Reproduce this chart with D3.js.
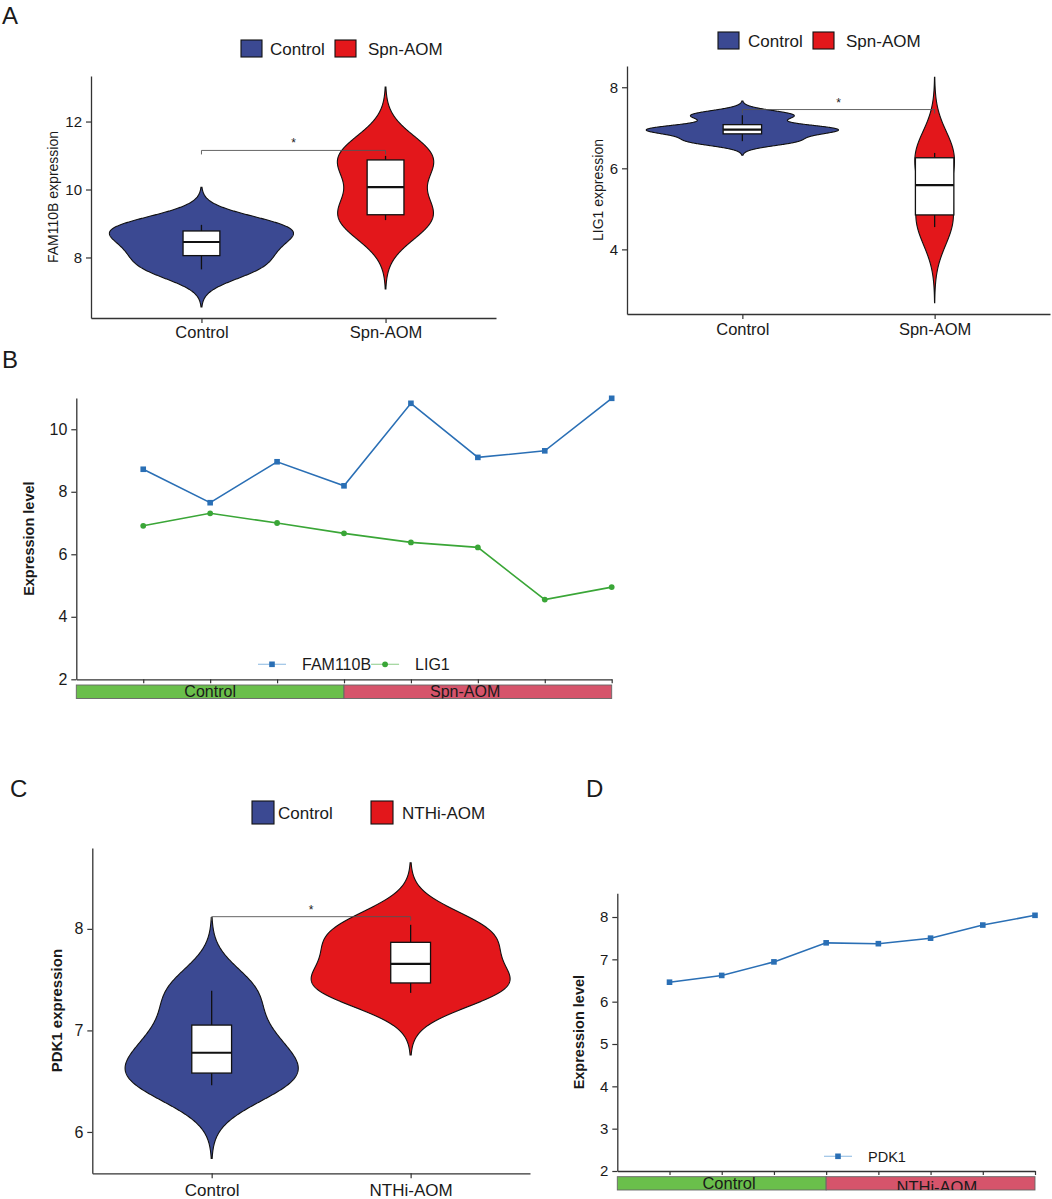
<!DOCTYPE html>
<html><head><meta charset="utf-8">
<script src="https://cdn.jsdelivr.net/npm/d3@7"></script>
<style>
body{margin:0;background:#fff}
svg text{font-family:Arial,"Liberation Sans",Helvetica,sans-serif;fill:#1a1a1a}
</style></head>
<body><svg id="fig" width="1052" height="1199"></svg>
<script>
// ---------------- DATA ----------------
const sampleGroupSpn  = ["Control","Control","Control","Control","Spn-AOM","Spn-AOM","Spn-AOM","Spn-AOM"];
const sampleGroupNthi = ["Control","Control","Control","Control","NTHi-AOM","NTHi-AOM","NTHi-AOM","NTHi-AOM"];
const groupsSpn  = ["Control","Spn-AOM"];
const groupsNthi = ["Control","NTHi-AOM"];
const fam110b = [8.72, 7.65, 8.96, 8.19, 10.83, 9.10, 9.31, 10.99];
const lig1    = [6.91, 7.31, 7.00, 6.67, 6.38, 6.22, 4.55, 4.95];
const pdk1    = [6.46, 6.62, 6.94, 7.39, 7.37, 7.50, 7.81, 8.04];
const ticksFam = [8, 10, 12];
const ticksLig = [4, 6, 8];
const ticksPdk = [6, 7, 8];
const ticksB   = [2, 4, 6, 8, 10];
const ticksD   = [2, 3, 4, 5, 6, 7, 8];
const bracketFam = 11.15, bracketLig = 7.45, bracketPdk = 8.12;
const sigLabel = "*";

// ---------------- STYLE ----------------
const C_BLUE = "#3B4992", C_RED = "#E3171B";
const L_BLUE = "#2a6fb5", L_GREEN = "#3aa637", LEG_BLUE = "#9cc3e6", LEG_GREEN = "#9fd49a";
const BAR_GREEN = "#6abf4b", BAR_RED = "#d6546b";
const AX = "#333";
const svg = d3.select("#fig");
const fmt = d3.format("d");

function sorted(v){ return v.slice().sort(d3.ascending); }
function nrd0(v){
  const s = sorted(v);
  const iqr = d3.quantile(s,0.75) - d3.quantile(s,0.25);
  const lo = Math.min(d3.deviation(v), iqr/1.34);
  return 0.9*lo*Math.pow(v.length,-0.2);
}
function kde(v){
  const bw = nrd0(v), lo = d3.min(v)-3*bw, hi = d3.max(v)+3*bw, n = 512;
  const k = 1/(v.length*bw*Math.sqrt(2*Math.PI));
  return d3.range(n).map(i=>{
    const x = lo+(hi-lo)*i/(n-1);
    return [x, k*d3.sum(v, xi=>Math.exp(-0.5*((x-xi)/bw)**2))];
  });
}
function styleAxis(g, fs){
  g.select(".domain").attr("stroke",AX).attr("stroke-width",1.3);
  g.selectAll(".tick line").attr("stroke",AX).attr("stroke-width",1.2);
  g.selectAll(".tick text").attr("font-size",fs).attr("fill","#1a1a1a")
    .style("font-family",'Arial,"Liberation Sans",sans-serif');
}
function panelLabel(t,x,y){
  svg.append("text").attr("x",x).attr("y",y).attr("font-size",24).text(t);
}

function violinPanel(cfg){
  const {values, groupOf, groups, l, r, t, b, ticks, yLabel, yBold, yLabFs, yLabX,
         tickFs, xFs, xPad, bracket, legend} = cfg;
  const g = svg.append("g");
  const byGroup = groups.map(gr=>values.filter((v,i)=>groupOf[i]===gr));
  const dens = byGroup.map(kde);
  const lo = d3.min(dens,d=>d[0][0]), hi = d3.max(dens,d=>d[d.length-1][0]);
  const pad = (hi-lo)*0.05;
  const y = d3.scaleLinear().domain([lo-pad, hi+pad]).range([b,t]);
  const x = d3.scaleLinear().domain([0.4, groups.length+0.6]).range([l,r]);
  const unit = x(1)-x(0);
  const maxD = d3.max(dens,d=>d3.max(d,p=>p[1]));
  const colors = [C_BLUE, C_RED];
  const line = d3.line();
  dens.forEach((d,i)=>{
    const cx = x(i+1);
    const hw = p=>p[1]/maxD*0.5*unit;
    const pts = d.map(p=>[cx+hw(p), y(p[0])]).concat(d.slice().reverse().map(p=>[cx-hw(p), y(p[0])]));
    g.append("path").attr("d", line(pts)+"Z").attr("fill",colors[i])
      .attr("stroke","#111").attr("stroke-width",1.1);
    const s = sorted(byGroup[i]);
    const q1 = d3.quantile(s,0.25), q2 = d3.quantile(s,0.5), q3 = d3.quantile(s,0.75);
    const iqr = q3-q1;
    const wLo = d3.min(s.filter(v=>v>=q1-1.5*iqr)), wHi = d3.max(s.filter(v=>v<=q3+1.5*iqr));
    const bw = 0.2*unit;
    g.append("line").attr("x1",cx).attr("x2",cx).attr("y1",y(wHi)).attr("y2",y(q3)).attr("stroke","#111").attr("stroke-width",1.3);
    g.append("line").attr("x1",cx).attr("x2",cx).attr("y1",y(q1)).attr("y2",y(wLo)).attr("stroke","#111").attr("stroke-width",1.3);
    g.append("rect").attr("x",cx-bw/2).attr("width",bw).attr("y",y(q3)).attr("height",y(q1)-y(q3))
      .attr("fill","#fff").attr("stroke","#111").attr("stroke-width",1.3);
    g.append("line").attr("x1",cx-bw/2).attr("x2",cx+bw/2).attr("y1",y(q2)).attr("y2",y(q2)).attr("stroke","#111").attr("stroke-width",2.2);
  });
  // bracket
  const by = y(bracket), x1 = x(1), x2 = x(2);
  g.append("path").attr("d",`M${x1},${by+4}L${x1},${by}L${x2},${by}L${x2},${by+4}`)
    .attr("fill","none").attr("stroke","#555").attr("stroke-width",0.9);
  g.append("text").attr("x",(x1+x2)/2).attr("y",by-3).attr("text-anchor","middle").attr("font-size",12).text(sigLabel);
  // axes
  const ya = g.append("g").attr("transform",`translate(${l},0)`)
    .call(d3.axisLeft(y).tickValues(ticks).tickFormat(fmt).tickSize(5).tickSizeOuter(0).tickPadding(4));
  styleAxis(ya, tickFs);
  const xa = g.append("g").attr("transform",`translate(0,${b})`)
    .call(d3.axisBottom(x).tickValues(groups.map((d,i)=>i+1)).tickFormat(i=>groups[i-1]).tickSize(5).tickSizeOuter(0).tickPadding(xPad));
  styleAxis(xa, xFs);
  // y label
  g.append("text").attr("transform",`translate(${yLabX},${(t+b)/2}) rotate(-90)`)
    .attr("text-anchor","middle").attr("font-size",yLabFs).attr("font-weight",yBold?"bold":"normal").text(yLabel);
  // legend
  groups.forEach((gr,i)=>{
    const it = legend.items[i];
    g.append("rect").attr("x",it[0]).attr("y",legend.y).attr("width",legend.w).attr("height",legend.h)
      .attr("fill",colors[i]).attr("stroke","#111").attr("stroke-width",1.1);
    g.append("text").attr("x",it[1]).attr("y",legend.y+legend.h/2).attr("dy","0.36em")
      .attr("font-size",legend.fs).text(gr);
  });
}

function linePanel(cfg){
  const {series, names, colors, legColors, markers, groupOf, l, r, t, b, yMax, ticks,
         tickFs, yLabX, barTop, barBot, barFs, barLabelX, barLabelY, legY, legX, legFs} = cfg;
  const g = svg.append("g");
  const n = groupOf.length;
  const x = d3.scaleLinear().domain([0,n]).range([l,r]);
  const y = d3.scaleLinear().domain([2,yMax]).range([b,t]);
  const ya = g.append("g").attr("transform",`translate(${l},0)`)
    .call(d3.axisLeft(y).tickValues(ticks).tickFormat(fmt).tickSize(5).tickSizeOuter(0).tickPadding(4));
  styleAxis(ya, tickFs);
  const xa = g.append("g").attr("transform",`translate(0,${b})`)
    .call(d3.axisBottom(x).tickValues(d3.range(1,n+1)).tickFormat("").tickSize(4).tickSizeOuter(0));
  styleAxis(xa, tickFs);
  g.append("text").attr("transform",`translate(${yLabX},${(t+b)/2}) rotate(-90)`)
    .attr("text-anchor","middle").attr("font-size",14.5).attr("font-weight","bold").text("Expression level");
  // group bar
  const groups = Array.from(new Set(groupOf));
  const barCols = [BAR_GREEN, BAR_RED];
  const clipId = "clip"+Math.round(l);
  g.append("clipPath").attr("id",clipId).append("rect").attr("x",l).attr("y",barTop).attr("width",r-l).attr("height",barBot-barTop);
  groups.forEach((gr,gi)=>{
    const idx = groupOf.map((d,i)=>d===gr?i:-1).filter(i=>i>=0);
    const x0 = x(d3.min(idx)), x1 = x(d3.max(idx)+1);
    g.append("rect").attr("x",x0).attr("width",x1-x0).attr("y",barTop).attr("height",barBot-barTop)
      .attr("fill",barCols[gi]).attr("stroke","#666").attr("stroke-width",0.9);
    g.append("text").attr("clip-path",`url(#${clipId})`).attr("x",x(barLabelX[gi])).attr("y",barLabelY[gi])
      .attr("text-anchor","middle").attr("font-size",barFs).text(gr);
  });
  // lines
  series.forEach((s,si)=>{
    g.append("path").attr("d", d3.line().x((d,i)=>x(i+1)).y(d=>y(d))(s))
      .attr("fill","none").attr("stroke",colors[si]).attr("stroke-width",1.6);
    s.forEach((v,i)=>drawMarker(g, markers[si], x(i+1), y(v), colors[si]));
  });
  // legend
  let cx = legX;
  series.forEach((s,si)=>{
    g.append("line").attr("x1",cx).attr("x2",cx+28).attr("y1",legY).attr("y2",legY).attr("stroke",legColors[si]).attr("stroke-width",1.2);
    drawMarker(g, markers[si], cx+14, legY, colors[si]);
    const tx = g.append("text").attr("x",cx+44).attr("y",legY).attr("dy","0.36em").attr("font-size",legFs).text(names[si]);
    cx = cx+44+tx.node().getComputedTextLength();
  });
}
function drawMarker(g, type, cx, cy, col){
  if(type==="square") g.append("rect").attr("x",cx-2.8).attr("y",cy-2.8).attr("width",5.6).attr("height",5.6).attr("fill",col);
  else g.append("circle").attr("cx",cx).attr("cy",cy).attr("r",2.9).attr("fill",col);
}

// ---------------- PANELS ----------------
panelLabel("A",2,24);
violinPanel({values:fam110b, groupOf:sampleGroupSpn, groups:groupsSpn, l:91, r:496, t:76, b:318,
  ticks:ticksFam, yLabel:"FAM110B expression", yBold:false, yLabFs:14, yLabX:58, tickFs:15, xFs:16.5, xPad:3,
  bracket:bracketFam, legend:{y:40, w:21, h:17, fs:17, items:[[241,270],[335,368]]}});
violinPanel({values:lig1, groupOf:sampleGroupSpn, groups:groupsSpn, l:627, r:1050, t:66, b:314,
  ticks:ticksLig, yLabel:"LIG1 expression", yBold:false, yLabFs:14, yLabX:603, tickFs:15, xFs:16.5, xPad:4,
  bracket:bracketLig, legend:{y:32, w:21, h:17, fs:17, items:[[718,748],[813,846]]}});

panelLabel("B",2,368);
linePanel({series:[fam110b, lig1], names:["FAM110B","LIG1"], colors:[L_BLUE,L_GREEN], legColors:[LEG_BLUE,LEG_GREEN],
  markers:["square","circle"], groupOf:sampleGroupSpn, l:76.3, r:611.7, t:398, b:679.3, yMax:11, ticks:ticksB,
  tickFs:16, yLabX:34, barTop:685, barBot:698.5, barFs:16, barLabelX:[2.0,5.81], barLabelY:[697,697],
  legY:664.3, legX:258, legFs:16});

panelLabel("C",10,797);
violinPanel({values:pdk1, groupOf:sampleGroupNthi, groups:groupsNthi, l:92.3, r:530, t:848, b:1173.3,
  ticks:ticksPdk, yLabel:"PDK1 expression", yBold:true, yLabFs:15, yLabX:62, tickFs:16, xFs:17, xPad:6,
  bracket:bracketPdk, legend:{y:801, w:22, h:23, fs:17, items:[[252,278],[371,402]]}});

panelLabel("D",586,797);
linePanel({series:[pdk1], names:["PDK1"], colors:[L_BLUE], legColors:[LEG_BLUE], markers:["square"],
  groupOf:sampleGroupNthi, l:617.3, r:1035, t:893.3, b:1171, yMax:8.56, ticks:ticksD,
  tickFs:15, yLabX:584, barTop:1176.7, barBot:1190, barFs:16.5, barLabelX:[2.14,6.12], barLabelY:[1189,1192.5],
  legY:1156.3, legX:824, legFs:14.5});
</script></body></html>
